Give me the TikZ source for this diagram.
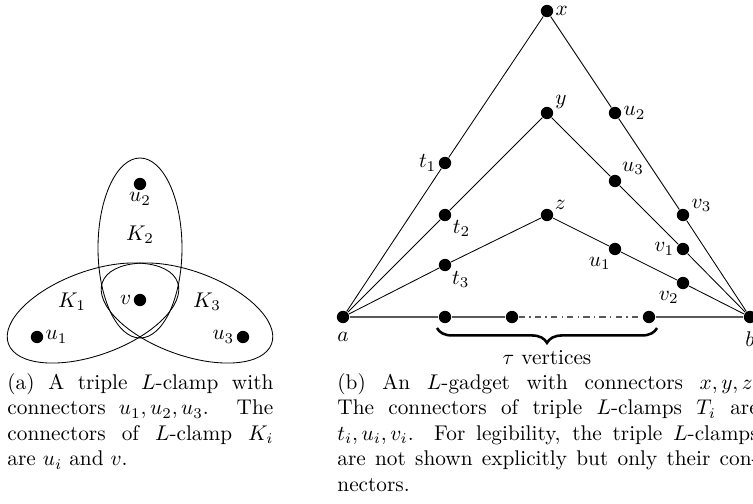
\documentclass[tikz,border=0pt]{standalone}
\usepackage{amsmath}
\usetikzlibrary{decorations.pathreplacing}

\begin{document}
\begin{tikzpicture}[x=0.47pt,y=-0.47pt,
	dot/.style={circle,fill,inner sep=0pt,minimum size=5.8pt},
	every label/.style={inner sep=0.8pt},
	base/.style={draw=black!65,line width=0.6pt},
	caption/.style={inner sep=0pt,anchor=north west,align=justify}]
		\useasboundingbox (0,0) rectangle (753,503);
		\draw (140,248) ellipse [x radius=42,y radius=90];
		\draw[rotate around={20:(93,313)}] (93,313) ellipse [x radius=90,y radius=42];
		\draw[rotate around={-20:(187,313)}] (187,313) ellipse [x radius=90,y radius=42];
		\node[dot,label=below:$u_2$] (u2l) at (140,184) {};
		\node[dot,label=left:$v$] (v) at (140,300) {};
		\node[dot,label=right:$u_1$] (u1l) at (37,337) {};
		\node[dot,label=left:$u_3$] (u3l) at (243,337) {};
		\node (K1) at (72,302) {$K_1$};
		\node (K2) at (140,235) {$K_2$};
		\node (K3) at (207,302) {$K_3$};
		\node[caption,text width=125pt] (capa) at (7,373) {(a) A triple $L$-clamp with\linebreak connectors $u_1,u_2,u_3$. The\linebreak connectors of $L$-clamp $K_i$\linebreak are $u_i$ and $v$.};

		\node[dot,label=right:$x$] (x) at (547,11) {};
		\node[dot,label=20:$y$] (y) at (547,113) {};
		\node[dot,label=30:$z$] (z) at (547,215) {};
		\node[dot,label=right:$u_2$] (u2) at (615,113) {};
		\node[dot,label=40:$u_3$] (u3) at (615,181) {};
		\node[dot,label=-110:$u_1$] (u1) at (615,249) {};
		\node[dot,label=10:$v_3$] (v3) at (683,215) {};
		\node[dot,label=left:$v_1$] (v1) at (683,249) {};
		\node[dot,label=-110:$v_2$] (v2) at (683,283) {};
		\node[dot,label=left:$t_1$] (t1) at (445,163) {};
		\node[dot,label=-30:$t_2$] (t2) at (445,215) {};
		\node[dot,label=-40:$t_3$] (t3) at (445,265) {};
		\node[dot,label={[label distance=3pt]below:$a$}] (a) at (343,317) {};
		\node[dot,label={[label distance=3pt]below:$b$}] (b) at (750,317) {};
		\node[dot] (w1) at (445,317) {};
		\node[dot] (w2) at (512,317) {};
		\node[dot] (w3) at (649,317) {};
		\draw (a) -- (t1) -- (x) -- (u2) -- (v3) -- (b);
		\draw (a) -- (t2) -- (y) -- (u3) -- (v1) -- (b);
		\draw (a) -- (t3) -- (z) -- (u1) -- (v2) -- (b);
		\draw[base] (a) -- (w1) -- (w2);
		\draw[base,dash dot] (w2) -- (w3);
		\draw[base] (w3) -- (b);
		\coordinate (bl) at (437,328);
		\coordinate (br) at (657,328);
		\draw[very thick,decorate,decoration={brace,mirror,amplitude=7pt}] (bl) -- (br);
		\node (tau) at (547,358) {$\tau$ vertices};
		\node[caption,text width=198pt] (capb) at (337,373) {(b) An $L$-gadget with connectors $x,y,z$.\linebreak The connectors of triple $L$-clamps $T_i$ are\linebreak $t_i,u_i,v_i$. For legibility, the triple $L$-clamps\linebreak are not shown explicitly but only their con-\linebreak nectors.};
\end{tikzpicture}
\end{document}
